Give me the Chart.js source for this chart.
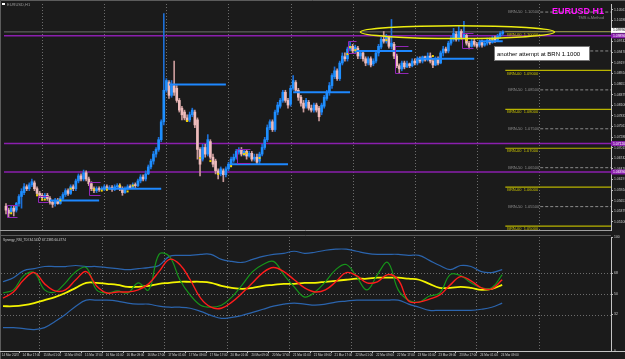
<!DOCTYPE html>
<html>
<head>
<meta charset="utf-8">
<script src="https://cdn.jsdelivr.net/npm/chart.js@4.4.0/dist/chart.umd.min.js"></script>
<style>
  html, body { margin: 0; padding: 0; background: #1b1b1b; }
  #wrap { position: relative; width: 625px; height: 359px; overflow: hidden; }
  #price { position: absolute; left: 0; top: 0; }
  #osc { position: absolute; left: 0; top: 233px; }
</style>
</head>
<body>
<div id="wrap">
  <canvas id="price" width="625" height="234"></canvas>
  <canvas id="osc" width="625" height="126"></canvas>
</div>
<script>
// EURUSD H1 candles, bar 0 = oldest
const OPEN = [
  1.0551,1.0541,1.0536,1.0546,1.0541,1.0558,1.0576,1.0586,1.0601,1.0596,
  1.0606,1.0611,1.0596,1.0584,1.0579,1.0573,1.0579,1.0571,1.0561,1.0558,
  1.0566,1.0558,1.0571,1.0581,1.0591,1.0584,1.0601,1.0596,1.0616,1.0629,
  1.0621,1.0637,1.0621,1.0609,1.0596,1.0591,1.0596,1.0594,1.0596,1.0601,
  1.0596,1.0599,1.0594,1.0601,1.0604,1.0596,1.0586,1.0596,1.0601,1.0599,
  1.0606,1.0604,1.0616,1.0626,1.0621,1.0634,1.0652,1.0667,1.0685,1.0697,
  1.0722,1.0768,1.0849,1.0869,1.0836,1.0861,1.0854,1.0823,1.0803,1.0793,
  1.0778,1.0773,1.0786,1.0793,1.0773,1.0697,1.0672,1.0702,1.0685,1.0717,
  1.0677,1.0667,1.0642,1.0634,1.0642,1.0632,1.0647,1.0657,1.0669,1.0677,
  1.0690,1.0697,1.0685,1.0692,1.0680,1.0687,1.0672,1.0677,1.0667,1.0685,
  1.0702,1.0722,1.0753,1.0768,1.0748,1.0793,1.0808,1.0823,1.0844,1.0823,
  1.0813,1.0854,1.0869,1.0849,1.0831,1.0816,1.0808,1.0818,1.0803,1.0798,
  1.0811,1.0803,1.0793,1.0808,1.0828,1.0844,1.0861,1.0884,1.0899,1.0879,
  1.0919,1.0935,1.0930,1.0955,1.0962,1.0950,1.0957,1.0937,1.0945,1.0930,
  1.0919,1.0930,1.0917,1.0924,1.0945,1.0960,1.0980,1.0975,1.0985,1.0962,
  1.0967,1.0937,1.0912,1.0904,1.0919,1.0909,1.0917,1.0912,1.0924,1.0919,
  1.0930,1.0924,1.0935,1.0927,1.0937,1.0924,1.0914,1.0930,1.0919,1.0945,
  1.0955,1.0950,1.0970,1.0980,1.0993,1.0980,1.1000,1.0985,1.0990,1.0970,
  1.0962,1.0975,1.0967,1.0965,1.0972,1.0965,1.0970,1.0978,1.0972,1.0983,
  1.0978,1.0988,1.0995
];
const HIGH = [
  1.0558,1.0546,1.0551,1.0551,1.0561,1.0581,1.0596,1.0609,1.0606,1.0611,
  1.0621,1.0616,1.0601,1.0589,1.0584,1.0584,1.0584,1.0576,1.0566,1.0571,
  1.0571,1.0576,1.0586,1.0596,1.0596,1.0606,1.0606,1.0621,1.0634,1.0634,
  1.0644,1.0642,1.0626,1.0614,1.0601,1.0601,1.0601,1.0601,1.0606,1.0606,
  1.0604,1.0604,1.0606,1.0609,1.0609,1.0601,1.0601,1.0606,1.0606,1.0611,
  1.0611,1.0621,1.0632,1.0632,1.0642,1.0657,1.0672,1.0692,1.0702,1.0728,
  1.0773,1.1046,1.0879,1.0874,1.0874,1.0924,1.0861,1.0828,1.0808,1.0798,
  1.0786,1.0793,1.0803,1.0798,1.0778,1.0702,1.0710,1.0710,1.0735,1.0722,
  1.0685,1.0672,1.0647,1.0652,1.0647,1.0652,1.0664,1.0677,1.0685,1.0697,
  1.0702,1.0702,1.0697,1.0697,1.0692,1.0692,1.0685,1.0685,1.0690,1.0710,
  1.0728,1.0760,1.0773,1.0773,1.0798,1.0818,1.0828,1.0849,1.0849,1.0828,
  1.0861,1.0887,1.0874,1.0854,1.0836,1.0823,1.0828,1.0823,1.0811,1.0816,
  1.0816,1.0808,1.0816,1.0836,1.0849,1.0869,1.0892,1.0909,1.0904,1.0924,
  1.0945,1.0945,1.0960,1.0975,1.0967,1.0965,1.0962,1.0950,1.0950,1.0935,
  1.0935,1.0935,1.0930,1.0950,1.0967,1.0985,1.1000,1.0993,1.0988,1.1031,
  1.0972,1.0942,1.0917,1.0924,1.0924,1.0924,1.0919,1.0930,1.0930,1.0935,
  1.0935,1.0937,1.0937,1.0945,1.0945,1.0930,1.0935,1.0935,1.0950,1.0962,
  1.0960,1.0975,1.0988,1.1008,1.1000,1.1013,1.1005,1.1026,1.0995,1.0975,
  1.0980,1.0980,1.0972,1.0978,1.0978,1.0975,1.0983,1.0983,1.0988,1.0988,
  1.0993,1.1000,1.1002
];
const LOW = [
  1.0531,1.0523,1.0531,1.0526,1.0536,1.0551,1.0546,1.0581,1.0591,1.0591,
  1.0601,1.0591,1.0579,1.0573,1.0566,1.0568,1.0566,1.0556,1.0548,1.0551,
  1.0556,1.0556,1.0566,1.0576,1.0579,1.0581,1.0591,1.0591,1.0611,1.0616,
  1.0616,1.0616,1.0604,1.0591,1.0586,1.0586,1.0589,1.0591,1.0591,1.0591,
  1.0594,1.0589,1.0591,1.0596,1.0591,1.0579,1.0584,1.0594,1.0596,1.0596,
  1.0599,1.0601,1.0611,1.0616,1.0616,1.0632,1.0647,1.0659,1.0677,1.0692,
  1.0717,1.0760,1.0844,1.0828,1.0831,1.0836,1.0818,1.0793,1.0773,1.0773,
  1.0768,1.0768,1.0781,1.0753,1.0672,1.0629,1.0667,1.0677,1.0680,1.0672,
  1.0652,1.0634,1.0621,1.0629,1.0614,1.0626,1.0642,1.0652,1.0664,1.0672,
  1.0685,1.0680,1.0680,1.0672,1.0677,1.0667,1.0667,1.0659,1.0659,1.0680,
  1.0697,1.0717,1.0748,1.0743,1.0743,1.0786,1.0803,1.0818,1.0818,1.0803,
  1.0808,1.0849,1.0844,1.0823,1.0808,1.0793,1.0803,1.0798,1.0793,1.0793,
  1.0793,1.0770,1.0786,1.0803,1.0823,1.0836,1.0854,1.0879,1.0874,1.0874,
  1.0914,1.0924,1.0924,1.0950,1.0945,1.0945,1.0930,1.0930,1.0924,1.0912,
  1.0914,1.0909,1.0912,1.0919,1.0937,1.0955,1.0970,1.0970,1.0957,1.0955,
  1.0930,1.0907,1.0892,1.0899,1.0904,1.0907,1.0907,1.0909,1.0914,1.0914,
  1.0919,1.0919,1.0924,1.0924,1.0919,1.0907,1.0912,1.0914,1.0917,1.0937,
  1.0945,1.0945,1.0965,1.0975,1.0975,1.0975,1.0980,1.0980,1.0965,1.0955,
  1.0960,1.0962,1.0957,1.0960,1.0960,1.0962,1.0965,1.0967,1.0970,1.0972,
  1.0975,1.0983,1.0990
];
const CLOSE = [
  1.0541,1.0533,1.0546,1.0538,1.0558,1.0576,1.0589,1.0601,1.0596,1.0606,
  1.0614,1.0596,1.0584,1.0579,1.0573,1.0579,1.0571,1.0561,1.0556,1.0566,
  1.0558,1.0571,1.0581,1.0591,1.0584,1.0601,1.0596,1.0616,1.0629,1.0621,
  1.0637,1.0621,1.0609,1.0596,1.0591,1.0596,1.0594,1.0596,1.0601,1.0596,
  1.0599,1.0594,1.0601,1.0604,1.0596,1.0586,1.0596,1.0601,1.0599,1.0606,
  1.0604,1.0616,1.0626,1.0621,1.0634,1.0652,1.0667,1.0685,1.0697,1.0722,
  1.0768,1.0849,1.0874,1.0836,1.0861,1.0844,1.0823,1.0798,1.0786,1.0778,
  1.0770,1.0786,1.0798,1.0760,1.0697,1.0659,1.0702,1.0685,1.0722,1.0677,
  1.0659,1.0642,1.0634,1.0647,1.0632,1.0647,1.0659,1.0672,1.0677,1.0692,
  1.0697,1.0685,1.0692,1.0680,1.0687,1.0672,1.0677,1.0664,1.0685,1.0702,
  1.0722,1.0753,1.0768,1.0748,1.0793,1.0811,1.0823,1.0844,1.0823,1.0811,
  1.0854,1.0874,1.0849,1.0831,1.0816,1.0803,1.0823,1.0803,1.0798,1.0811,
  1.0798,1.0781,1.0811,1.0831,1.0844,1.0861,1.0887,1.0899,1.0879,1.0919,
  1.0937,1.0930,1.0955,1.0962,1.0950,1.0960,1.0937,1.0945,1.0930,1.0919,
  1.0930,1.0914,1.0924,1.0945,1.0962,1.0980,1.0975,1.0988,1.0962,1.0970,
  1.0937,1.0912,1.0904,1.0919,1.0909,1.0917,1.0912,1.0924,1.0919,1.0930,
  1.0924,1.0935,1.0927,1.0937,1.0924,1.0914,1.0930,1.0919,1.0945,1.0955,
  1.0950,1.0970,1.0980,1.0995,1.0980,1.1000,1.0985,1.0993,1.0970,1.0962,
  1.0975,1.0967,1.0962,1.0972,1.0965,1.0970,1.0978,1.0972,1.0983,1.0978,
  1.0988,1.0995,1.0999
];

// daily blue lines (bar from / bar to / price)
const DAY_FROM = [17, 37, 63, 87, 111, 135, 159, 183];
const DAY_TO = [36, 60, 85, 109, 133, 157, 181, 192];
const DAY_PRICE = [1.0566, 1.0596, 1.0864, 1.0659, 1.0844, 1.0950, 1.0930, 1.0975];

// purple horizontal levels and the bid
const PURPLE_LEVELS = [1.0989, 1.0712, 1.0639];
const BID = 1.0999;

// round numbers drawn on the right
const BRN_00 = [1.10, 1.09, 1.08, 1.07, 1.06, 1.05];
const BRN_50 = [1.105, 1.095, 1.085, 1.075, 1.065, 1.055];

// yellow marks
const DOT_BARS = [2,12,14,15,21,25,34,37,39,44,47,49,70,75,79,82,87,92,93,98,132,133,135,147,165,178,188];
const DOT_PRICES = [1.0533,1.0579,1.0568,1.0568,1.0566,1.0596,1.0594,1.0591,1.0594,1.0604,1.0589,1.0604,
  1.0770,1.0675,1.0667,1.0634,1.0654,1.0685,1.0687,1.0675,1.0942,1.0960,1.0952,1.0978,1.0937,1.0978,1.0980];

// purple brackets
const BOX_FROM = [1, 13, 33, 90, 133, 151, 177];
const BOX_TO = [4, 16, 36, 94, 135, 155, 180];
const BOX_HIGH = [1.0553, 1.0578, 1.0614, 1.0697, 1.0975, 1.0962, 1.0995];
const BOX_LOW = [1.0523, 1.0561, 1.0581, 1.0662, 1.0945, 1.0894, 1.0957];

// ellipse and note
const ELLIPSE_BARS = [137, 212];
const ELLIPSE_PRICES = [1.1015, 1.0982];
const NOTE_BAR = 188.5;
const NOTE_PRICE = 1.0962;
const NOTE_TEXT = "another attempt at BRN 1.1000";

const PRICE_TICKS = [1.10561,1.10288,1.10015,1.09742,1.09470,1.09197,1.08924,1.08651,1.08379,1.08106,
  1.07833,1.07561,1.07288,1.07015,1.06742,1.06470,1.06197,1.05924,1.05651,1.05379,1.05106];

// time axis
const TIME_BARS = [-2,6,14,22,30,38,46,54,62,70,78,86,94,102,110,118,126,134,142,150,158,166,174,182,190];
const TIME_LABELS = ["14 Mar 2023","14 Mar 17:00","15 Mar 01:00","15 Mar 09:00","15 Mar 17:00","16 Mar 01:00",
  "16 Mar 09:00","16 Mar 17:00","17 Mar 01:00","17 Mar 09:00","17 Mar 17:00","20 Mar 01:00","20 Mar 09:00",
  "20 Mar 17:00","21 Mar 01:00","21 Mar 09:00","21 Mar 17:00","22 Mar 01:00","22 Mar 09:00","22 Mar 17:00",
  "23 Mar 01:00","23 Mar 09:00","23 Mar 17:00","24 Mar 01:00","24 Mar 09:00"];
const GRID_BARS = [14, 38, 62, 86, 110, 134, 158, 182, 206];

// TDI oscillator, sampled every 4 bars
const TDI_BARS = [0,4,8,12,16,20,24,28,32,36,40,44,48,52,56,60,64,68,72,76,80,84,88,92,96,100,
  104,108,112,116,120,124,128,132,136,140,144,148,152,156,160,164,168,172,176,180,184,188,192];
const TDI_UPPER = [60.7,64.3,70.5,72.3,74.1,74.1,74.1,75,74.1,74.1,73.2,72.3,71.4,72.3,73.2,75,83,83.9,83.9,84.8,
  84.8,80.4,78.6,77.7,80.4,83,84.8,85.7,87.5,85.7,86.6,88.4,89.3,89.3,87.5,85.7,84.8,84.8,84.8,83.9,
  83.9,79.5,75,71.4,75,74.1,69.6,68.8,71.4];
const TDI_LOWER = [20.5,20.5,19.6,18.8,20.5,25.9,32.1,39.3,44.6,44.6,44.6,43.8,42,41.1,41.1,39.3,38.4,38.4,37.5,34.8,
  31.3,28.6,29.5,31.3,33.9,36.6,39.3,41.1,42,41.1,40.2,41.1,42.9,43.8,44.6,44.6,44.6,44.6,44.6,41.1,
  38.4,35.7,35.7,35.7,35.7,35.7,36.6,38.4,42];
const TDI_BASE = [39.3,39.3,40.2,42,44.6,47.3,50.9,55.4,59.8,59.8,58.9,58,56.3,56.3,57.1,58.9,59.8,60.7,60.7,60.7,
  59.8,57.1,55.4,54.5,55.4,57.1,58,58.9,58.9,59.8,59.8,60.7,61.6,62.5,63.4,63.4,64.3,64.3,64.3,63.4,
  62.5,58.9,55.4,55.4,56.3,55.4,53.6,54.5,58];
const TDI_SIGNAL = [46.4,51.8,62.5,68.8,58.9,52.7,53.6,62.5,69.6,57.1,50.9,51.8,51.8,53.6,58.9,69.6,80.4,75.9,62.5,46.4,
  38.4,37.5,42.9,50.9,59.8,68.8,73.2,69.6,62.5,55.4,51.8,53.6,60.7,68.8,66.1,59.8,60.7,67,62.5,43.8,
  42.9,45.5,49.1,58,65.2,61.6,55.4,54.5,62.5];
const TDI_RSI = [50.9,53.6,66.1,68.8,53.6,51.8,59.8,69.6,73.2,53.6,50.9,52.7,50.9,59.8,53.6,84.8,83,62.5,49.1,40.2,
  38.4,40.2,47.3,58,69.6,75.9,78.6,67,56.3,47.3,51.8,60.7,71.4,75.9,65.2,53.6,67,77.7,53.6,44.6,
  42.9,48.2,50.9,67,66.1,59.8,55.4,55.4,67];
const OSC_TICKS = [0, 32, 50, 68, 100];
const OSC_LEVELS = [32, 50, 68];

const X_MIN = -0.77;
const X_MAX = 233.85;
const P_MIN = 1.04899;
const P_MAX = 1.10707;
const BG = "#1b1b1b";
const FONT = "'Liberation Sans', Arial, sans-serif";

Chart.defaults.font.family = FONT;

const UP = "#1e8fff";
const UP_WICK = "#1d6fd6";
const DOWN = "#eebcbc";
const DOWN_WICK = "#c99a9a";
const isUp = CLOSE.map((c, i) => c >= OPEN[i]);

function flat(x0, x1, y) {
  return [{ x: x0, y: y }, { x: x1, y: y }];
}

function lineSet(data, color, width, order, dash) {
  return {
    type: "line", data: data, borderColor: color, borderWidth: width, borderDash: dash || [],
    pointRadius: 0, fill: false, order: order
  };
}

const datasets = [
  {
    type: "line", data: DOT_BARS.map((b, i) => ({ x: b, y: DOT_PRICES[i] })),
    showLine: false, pointStyle: "rect", pointRadius: 1.4, backgroundColor: "#f2d400", borderWidth: 0, order: 0
  },
  ...DAY_FROM.map((b, i) => lineSet(flat(b, DAY_TO[i], DAY_PRICE[i]), "#1e88ff", 2, 1)),
  {
    type: "bar", data: OPEN.map((o, i) => ({ x: i, y: [o, CLOSE[i]] })),
    backgroundColor: isUp.map(u => (u ? UP : DOWN)), barThickness: 2, minBarLength: 1, grouped: false, order: 2
  },
  {
    type: "bar", data: LOW.map((l, i) => ({ x: i, y: [l, HIGH[i]] })),
    backgroundColor: isUp.map(u => (u ? UP_WICK : DOWN_WICK)), barThickness: 1, grouped: false, order: 3
  },
  ...PURPLE_LEVELS.map(p => lineSet(flat(X_MIN, X_MAX, p), "#8b1fae", 1.5, 4)),
  lineSet(flat(X_MIN, X_MAX, BID), "#6e6e6e", 1, 5),
  ...BRN_00.map(p => lineSet(flat(193, X_MAX, p), "#b9b400", 1.2, 5)),
  ...BRN_50.map(p => lineSet(flat(206.5, X_MAX, p), "#8c8c8c", 1, 5, [3, 2]))
];

const priceDecor = {
  id: "priceDecor",
  beforeDraw(chart) {
    const { ctx, width, height, chartArea: a } = chart;
    const xs = chart.scales.x;
    ctx.save();
    ctx.fillStyle = BG;
    ctx.fillRect(0, 0, width, height);
    ctx.strokeStyle = "#5c5c5c";
    ctx.lineWidth = 1;
    ctx.beginPath();
    ctx.moveTo(0.5, height); ctx.lineTo(0.5, 0.5); ctx.lineTo(width, 0.5);
    ctx.stroke();
    ctx.strokeStyle = "#a0a0a0";
    ctx.beginPath();
    ctx.moveTo(0, a.bottom + 0.5); ctx.lineTo(a.right, a.bottom + 0.5);
    ctx.stroke();
    ctx.setLineDash([1, 2]);
    ctx.strokeStyle = "#6c6c6c";
    GRID_BARS.forEach(b => {
      const x = Math.round(xs.getPixelForValue(b)) + 0.5;
      if (x > a.right - 4) return;
      ctx.beginPath(); ctx.moveTo(x, a.top); ctx.lineTo(x, a.bottom); ctx.stroke();
    });
    ctx.restore();
  },
  afterDatasetsDraw(chart) {
    const { ctx, chartArea: a } = chart;
    const xs = chart.scales.x, ys = chart.scales.y;
    ctx.save();

    // brackets
    ctx.strokeStyle = "#9126b5";
    ctx.lineWidth = 1;
    BOX_FROM.forEach((b, i) => {
      const x0 = Math.round(xs.getPixelForValue(b)) - 1.5;
      const x1 = Math.round(xs.getPixelForValue(BOX_TO[i])) + 1.5;
      const yT = Math.round(ys.getPixelForValue(BOX_HIGH[i])) + 0.5;
      const yB = Math.round(ys.getPixelForValue(BOX_LOW[i])) + 0.5;
      ctx.beginPath();
      ctx.moveTo(x1, yT); ctx.lineTo(x0, yT); ctx.lineTo(x0, yB); ctx.lineTo(x1, yB);
      ctx.stroke();
    });

    // ellipse around the 1.1000 attempt
    const ex0 = xs.getPixelForValue(ELLIPSE_BARS[0]), ex1 = xs.getPixelForValue(ELLIPSE_BARS[1]);
    const ey0 = ys.getPixelForValue(ELLIPSE_PRICES[0]), ey1 = ys.getPixelForValue(ELLIPSE_PRICES[1]);
    ctx.strokeStyle = "#eeee10";
    ctx.lineWidth = 1.5;
    ctx.beginPath();
    ctx.ellipse((ex0 + ex1) / 2, (ey0 + ey1) / 2, (ex1 - ex0) / 2, (ey1 - ey0) / 2, 0, 0, Math.PI * 2);
    ctx.stroke();

    // BRN labels
    const bx = xs.getPixelForValue(193) + 2;
    ctx.font = "4px " + FONT;
    ctx.textAlign = "left";
    ctx.textBaseline = "top";
    ctx.fillStyle = "#c8c200";
    BRN_00.forEach(p => ctx.fillText("BRN-00  " + p.toFixed(5), bx, ys.getPixelForValue(p) + 1));
    ctx.textBaseline = "middle";
    ctx.fillStyle = "#8e8e8e";
    BRN_50.forEach(p => {
      const y = ys.getPixelForValue(p);
      if (y > a.top + 2) ctx.fillText("BRN-50  " + p.toFixed(5), bx + 1, y);
    });

    // note box
    const nx = Math.round(xs.getPixelForValue(NOTE_BAR)) + 0.5;
    const ny = Math.round(ys.getPixelForValue(NOTE_PRICE)) + 0.5;
    ctx.fillStyle = "#ffffff";
    ctx.fillRect(nx, ny, 95, 14);
    ctx.strokeStyle = "#777";
    ctx.lineWidth = 1;
    ctx.strokeRect(nx, ny, 95, 14);
    ctx.fillStyle = "#000";
    ctx.font = "6px " + FONT;
    ctx.fillText(NOTE_TEXT, nx + 2.5, ny + 7.5);

    // titles
    ctx.textAlign = "right";
    ctx.textBaseline = "alphabetic";
    ctx.fillStyle = "#ff14ff";
    ctx.font = "bold 9px " + FONT;
    ctx.fillText("EURUSD H1", 604, 14);
    ctx.fillStyle = "#8a8a8a";
    ctx.font = "4px " + FONT;
    ctx.fillText("TMS ii-Method", 604, 19);
    ctx.textAlign = "left";
    ctx.fillStyle = "#ffffff";
    ctx.fillRect(2, 3, 3, 2);
    ctx.fillStyle = "#9a9a9a";
    ctx.fillText("EURUSD,H1", 7, 6);

    // axis tags
    ctx.font = "3.4px " + FONT;
    ctx.textBaseline = "middle";
    PURPLE_LEVELS.forEach(p => {
      const y = ys.getPixelForValue(p);
      ctx.fillStyle = "#8b1fae";
      ctx.fillRect(a.right, y - 2.5, 14, 5);
      ctx.fillStyle = "#ffffff";
      ctx.fillText(p.toFixed(5), a.right + 2, y);
    });
    const by = ys.getPixelForValue(BID) - 1.5;
    ctx.fillStyle = "#ffffff";
    ctx.fillRect(a.right, by - 2.5, 14, 5);
    ctx.fillStyle = "#000";
    ctx.fillText(BID.toFixed(5), a.right + 2, by);
    ctx.restore();
  }
};

new Chart(document.getElementById("price"), {
  type: "bar",
  data: { datasets: datasets },
  options: {
    responsive: false,
    animation: false,
    devicePixelRatio: 1,
    layout: { padding: { left: 1, top: 2, right: 0, bottom: 2 } },
    plugins: { legend: { display: false }, tooltip: { enabled: false } },
    scales: {
      x: { type: "linear", min: X_MIN, max: X_MAX, offset: false, display: false },
      y: {
        position: "right", min: P_MIN, max: P_MAX,
        afterFit(s) { s.width = 14; },
        afterBuildTicks(s) { s.ticks = PRICE_TICKS.map(v => ({ value: v })); },
        ticks: { color: "#cfcfcf", font: { size: 3.4 }, padding: 1, autoSkip: false, callback: v => v.toFixed(5) },
        grid: { drawOnChartArea: false, color: "#bdbdbd", tickLength: 2 },
        border: { color: "#c4c4c4" }
      }
    }
  },
  plugins: [priceDecor]
});

// lower panel
const oscDecor = {
  id: "oscDecor",
  beforeDraw(chart) {
    const { ctx, width, height, chartArea: a } = chart;
    const xs = chart.scales.x, ys = chart.scales.y;
    ctx.save();
    ctx.fillStyle = BG;
    ctx.fillRect(0, 0, width, height);
    ctx.strokeStyle = "#5c5c5c";
    ctx.beginPath();
    ctx.moveTo(0.5, 0); ctx.lineTo(0.5, height);
    ctx.moveTo(0, 2.5); ctx.lineTo(a.right, 2.5);
    ctx.stroke();
    ctx.strokeStyle = "#c4c4c4";
    ctx.beginPath();
    ctx.moveTo(0, a.bottom + 0.5); ctx.lineTo(width, a.bottom + 0.5);
    ctx.stroke();
    ctx.setLineDash([1, 2]);
    ctx.strokeStyle = "#6c6c6c";
    GRID_BARS.forEach(b => {
      const x = Math.round(xs.getPixelForValue(b)) + 0.5;
      if (x > a.right - 4) return;
      ctx.beginPath(); ctx.moveTo(x, a.top); ctx.lineTo(x, a.bottom); ctx.stroke();
    });
    OSC_LEVELS.forEach(v => {
      const y = Math.round(ys.getPixelForValue(v)) + 0.5;
      ctx.beginPath(); ctx.moveTo(a.left, y); ctx.lineTo(a.right, y); ctx.stroke();
    });
    ctx.restore();
  },
  afterDraw(chart) {
    const { ctx, chartArea: a } = chart;
    const xs = chart.scales.x;
    ctx.save();
    ctx.font = "3.2px " + FONT;
    ctx.fillStyle = "#d0d0d0";
    ctx.textAlign = "left";
    ctx.textBaseline = "middle";
    ctx.fillText("Synergy_RSI_TDI 34.5437 67.2385 60.4774", 3, 7);
    ctx.strokeStyle = "#c4c4c4";
    ctx.font = "3px " + FONT;
    TIME_BARS.forEach((b, i) => {
      const x = xs.getPixelForValue(b);
      ctx.beginPath(); ctx.moveTo(Math.round(x) + 0.5, a.bottom); ctx.lineTo(Math.round(x) + 0.5, a.bottom + 2); ctx.stroke();
      ctx.fillText(TIME_LABELS[i], x + 4, a.bottom + 4);
    });
    ctx.restore();
  }
};

function tdi(values, color, width, order) {
  return {
    data: TDI_BARS.map((b, i) => ({ x: b, y: values[i] })),
    borderColor: color, borderWidth: width, pointRadius: 0, tension: 0.4, fill: false, order: order
  };
}

new Chart(document.getElementById("osc"), {
  type: "line",
  data: {
    datasets: [
      tdi(TDI_SIGNAL, "#ff1c1c", 1.4, 0),
      tdi(TDI_RSI, "#16951a", 1.2, 1),
      tdi(TDI_BASE, "#f4f400", 1.8, 2),
      tdi(TDI_UPPER, "#2b64ad", 1.2, 3),
      tdi(TDI_LOWER, "#2b64ad", 1.2, 3)
    ]
  },
  options: {
    responsive: false,
    animation: false,
    devicePixelRatio: 1,
    layout: { padding: { left: 1, top: 4, right: 0, bottom: 8 } },
    plugins: { legend: { display: false }, tooltip: { enabled: false } },
    scales: {
      x: { type: "linear", min: X_MIN, max: X_MAX, offset: false, display: false },
      y: {
        position: "right", min: 0, max: 100,
        afterFit(s) { s.width = 14; },
        afterBuildTicks(s) { s.ticks = OSC_TICKS.map(v => ({ value: v })); },
        ticks: { color: "#cfcfcf", font: { size: 3.4 }, padding: 1, autoSkip: false },
        grid: { drawOnChartArea: false, color: "#bdbdbd", tickLength: 2 },
        border: { color: "#c4c4c4" }
      }
    }
  },
  plugins: [oscDecor]
});
</script>
</body>
</html>
